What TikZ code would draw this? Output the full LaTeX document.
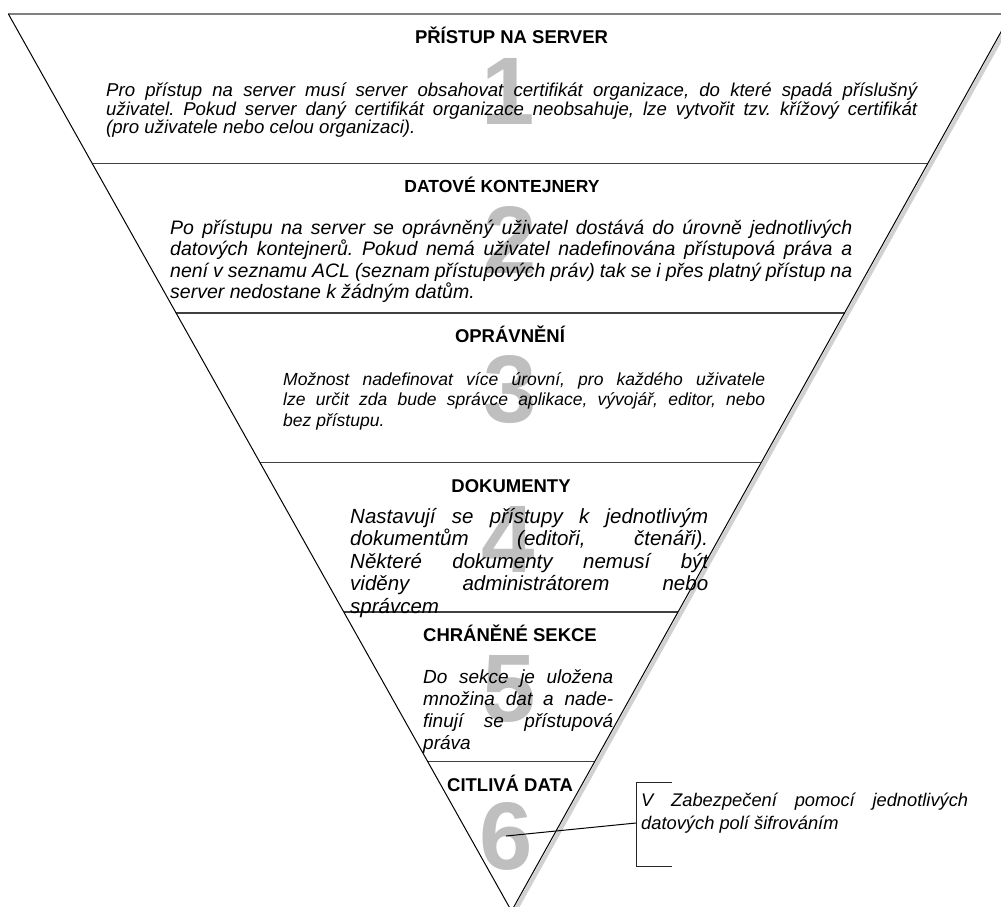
\documentclass[tikz,border=0pt]{standalone}
\usepackage{fontspec}
\setmainfont{Liberation Sans}
\usetikzlibrary{calc}

% justified text blocks built line by line
\newlength\blkw
\newcommand\blk[4]{\vtop{\fontsize{#3}{#2}\selectfont\itshape\frenchspacing\setlength\blkw{#1}\baselineskip=#2\relax\lineskiplimit=-100pt\lineskip=0pt\relax #4}}
\newcommand\jline[1]{\hbox to \blkw{\spaceskip=0.278em plus 1fil minus 0.08em\relax #1}}
\newcommand\lline[1]{\hbox to \blkw{\spaceskip=0.278em\relax #1\hfill}}

\tikzset{
  edge/.style={draw=black, line width=1pt},
  rowline/.style={draw=black!75, line width=1.3pt},
  topline/.style={draw=black!50, line width=2pt},
  shade/.style={draw=black!18, line width=4pt},
  digit/.style={font=\fontsize{96}{96}\selectfont\bfseries, text=black!25, inner sep=0pt, anchor=center},
  title/.style={font=\fontsize{18.5}{20}\selectfont\bfseries, inner sep=0pt, anchor=base},
  body/.style={inner sep=0pt, anchor=base west},
  bracket/.style={draw=black!85, line width=1pt},
  conn/.style={draw=black, line width=1pt},
}

\begin{document}
\begin{tikzpicture}[x=1pt,y=-1pt]
\useasboundingbox (0,0) rectangle (1001,906);
\clip (0,0) rectangle (1001,906);

% corners of the inverted triangle
\coordinate (TL) at (8.4,14);
\coordinate (TR) at (1011,14);
\coordinate (AP) at (511.5,911);

% shadow of the right side
\draw[shade] ([xshift=3.5pt]TR) -- ([xshift=3.5pt]AP);

% big level numbers behind the text
\node[digit] (d1) at (508,91.5) {1};
\node[digit] (d2) at (510,240) {2};
\node[digit] (d3) at (510,389.5) {3};
\node[digit] (d4) at (508,539) {4};
\node[digit] (d5) at (509,688.5) {5};
\node[digit] (d6) at (506,836) {6};

% outline and level separators
\draw[topline] (TL) -- (TR);
\foreach \k in {1,...,5}
  \draw[rowline] ($(TL)!\k/6!(AP)$) -- ($(TR)!\k/6!(AP)$);
\draw[edge] (TL) -- (AP) -- (TR);

% level 1
\node[title] (h1) at (511.5,43.5) {PŘÍSTUP NA SERVER};
\node[body] (t1) at (106,96.7) {\blk{811pt}{18.6pt}{18.6pt}{%
  \jline{Pro přístup na server musí server obsahovat certifikát organizace, do které spadá příslušný}
  \jline{uživatel. Pokud server daný certifikát organizace neobsahuje, lze vytvořit tzv. křížový certifikát}
  \lline{(pro uživatele nebo celou organizaci).}}};

% level 2
\node[title, font=\fontsize{17.5}{20}\selectfont\bfseries] (h2) at (502,192.5) {DATOVÉ KONTEJNERY};
\node[body] (t2) at (170,234) {\blk{682pt}{21.5pt}{19.5pt}{%
  \jline{Po přístupu na server se oprávněný uživatel dostává do úrovně jednotlivých}
  \jline{datových kontejnerů. Pokud nemá uživatel nadefinována přístupová práva a}
  \jline{není v seznamu ACL (seznam přístupových práv) tak se i přes platný přístup na}
  \lline{server nedostane k žádným datům.}}};

% level 3
\node[title] (h3) at (510,342) {OPRÁVNĚNÍ};
\node[body] (t3) at (283,385) {\blk{482pt}{20.8pt}{17.5pt}{%
  \jline{Možnost nadefinovat více úrovní, pro každého uživatele}
  \jline{lze určit zda bude správce aplikace, vývojář, editor, nebo}
  \lline{bez přístupu.}}};

% level 4
\node[title] (h4) at (511,492) {DOKUMENTY};
\node[body] (t4) at (350,523) {\blk{358pt}{22.6pt}{20.5pt}{%
  \jline{Nastavují se přístupy k jednotlivým}
  \jline{dokumentům (editoři, čtenáři).}
  \jline{Některé dokumenty nemusí být}
  \jline{viděny administrátorem nebo}
  \lline{správcem}}};

% level 5
\node[title] (h5) at (510,641.5) {CHRÁNĚNÉ SEKCE};
\node[body] (t5) at (423,683) {\blk{190pt}{22pt}{19pt}{%
  \jline{Do sekce je uložena}
  \jline{množina dat a nade-}
  \jline{finují se přístupová}
  \lline{práva}}};

% level 6
\node[title] (h6) at (510,791) {CITLIVÁ DATA};

% call-out for level 6
\coordinate (bt) at (636,782);
\coordinate (bb) at (636,866);
\coordinate (bm) at (636,823);
\draw[bracket] ([xshift=36pt]bt) -- (bt) -- (bb) -- ([xshift=36pt]bb);
\draw[conn] (d6.center) -- (bm);
\node[body] (n6) at (641,806) {\blk{327pt}{23pt}{18.3pt}{%
  \jline{V Zabezpečení pomocí jednotlivých}
  \lline{datových polí šifrováním}}};
\end{tikzpicture}
\end{document}
